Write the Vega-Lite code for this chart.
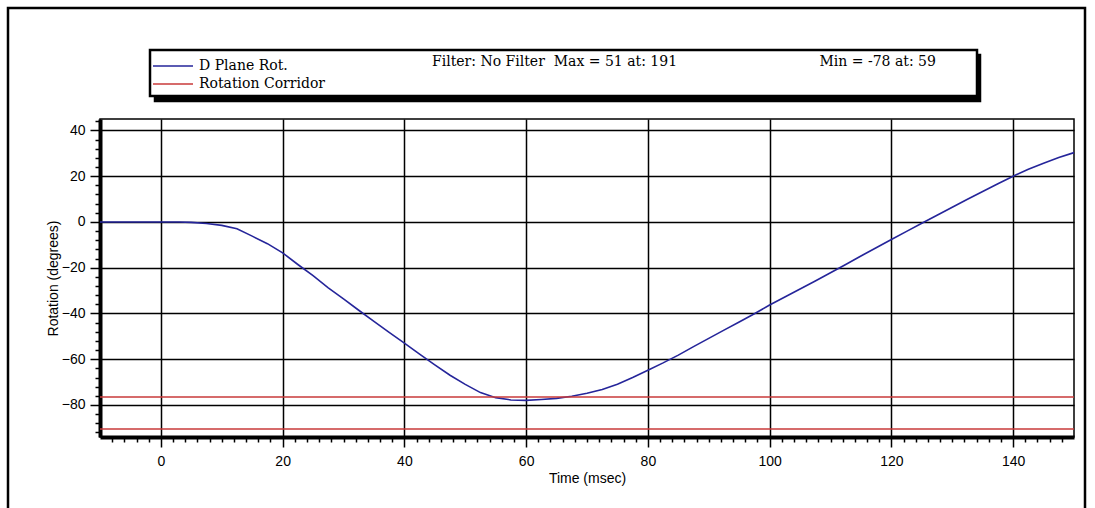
{
  "$schema": "https://vega.github.io/schema/vega-lite/v6.json",
  "width": 974,
  "height": 318,
  "autosize": {"type": "none"},
  "padding": {"left": 100, "top": 119, "right": 21, "bottom": 71},
  "background": "white",
  "title": {"text": "D Plane Rotation", "frame": "group", "anchor": "middle", "dx": -24, "offset": 10, "font": "Liberation Sans", "fontSize": 15, "fontWeight": "normal", "color": "black"},
  "datasets": {
    "curve": [
      {"time": -10, "rotation": 0, "series": "D Plane Rot."},
      {"time": 0, "rotation": 0, "series": "D Plane Rot."},
      {"time": 3, "rotation": 0, "series": "D Plane Rot."},
      {"time": 5, "rotation": -0.2, "series": "D Plane Rot."},
      {"time": 7.5, "rotation": -0.7, "series": "D Plane Rot."},
      {"time": 10, "rotation": -1.5, "series": "D Plane Rot."},
      {"time": 12.5, "rotation": -3, "series": "D Plane Rot."},
      {"time": 15, "rotation": -6.2, "series": "D Plane Rot."},
      {"time": 17.5, "rotation": -9.5, "series": "D Plane Rot."},
      {"time": 20, "rotation": -13.5, "series": "D Plane Rot."},
      {"time": 22.5, "rotation": -18.6, "series": "D Plane Rot."},
      {"time": 25, "rotation": -23.5, "series": "D Plane Rot."},
      {"time": 27.5, "rotation": -28.8, "series": "D Plane Rot."},
      {"time": 30, "rotation": -33.6, "series": "D Plane Rot."},
      {"time": 32.5, "rotation": -38.6, "series": "D Plane Rot."},
      {"time": 35, "rotation": -43.5, "series": "D Plane Rot."},
      {"time": 37.5, "rotation": -48.3, "series": "D Plane Rot."},
      {"time": 40, "rotation": -53, "series": "D Plane Rot."},
      {"time": 42.5, "rotation": -57.8, "series": "D Plane Rot."},
      {"time": 45, "rotation": -62.5, "series": "D Plane Rot."},
      {"time": 47.5, "rotation": -67, "series": "D Plane Rot."},
      {"time": 50, "rotation": -71, "series": "D Plane Rot."},
      {"time": 52.5, "rotation": -74.6, "series": "D Plane Rot."},
      {"time": 55, "rotation": -76.8, "series": "D Plane Rot."},
      {"time": 57.5, "rotation": -77.8, "series": "D Plane Rot."},
      {"time": 60, "rotation": -78, "series": "D Plane Rot."},
      {"time": 62.5, "rotation": -77.6, "series": "D Plane Rot."},
      {"time": 65, "rotation": -77.1, "series": "D Plane Rot."},
      {"time": 67.5, "rotation": -76.2, "series": "D Plane Rot."},
      {"time": 70, "rotation": -74.9, "series": "D Plane Rot."},
      {"time": 72.5, "rotation": -73.2, "series": "D Plane Rot."},
      {"time": 75, "rotation": -70.9, "series": "D Plane Rot."},
      {"time": 77.5, "rotation": -68, "series": "D Plane Rot."},
      {"time": 80, "rotation": -64.8, "series": "D Plane Rot."},
      {"time": 82.5, "rotation": -61.6, "series": "D Plane Rot."},
      {"time": 85, "rotation": -58.2, "series": "D Plane Rot."},
      {"time": 87.5, "rotation": -54.5, "series": "D Plane Rot."},
      {"time": 90, "rotation": -50.9, "series": "D Plane Rot."},
      {"time": 92.5, "rotation": -47.3, "series": "D Plane Rot."},
      {"time": 95, "rotation": -43.7, "series": "D Plane Rot."},
      {"time": 97.5, "rotation": -40.1, "series": "D Plane Rot."},
      {"time": 100, "rotation": -36.3, "series": "D Plane Rot."},
      {"time": 102.5, "rotation": -32.8, "series": "D Plane Rot."},
      {"time": 105, "rotation": -29.3, "series": "D Plane Rot."},
      {"time": 107.5, "rotation": -25.8, "series": "D Plane Rot."},
      {"time": 110, "rotation": -22.2, "series": "D Plane Rot."},
      {"time": 112.5, "rotation": -18.6, "series": "D Plane Rot."},
      {"time": 115, "rotation": -14.9, "series": "D Plane Rot."},
      {"time": 117.5, "rotation": -11.3, "series": "D Plane Rot."},
      {"time": 120, "rotation": -7.7, "series": "D Plane Rot."},
      {"time": 122.5, "rotation": -4.1, "series": "D Plane Rot."},
      {"time": 125, "rotation": -0.6, "series": "D Plane Rot."},
      {"time": 127.5, "rotation": 2.9, "series": "D Plane Rot."},
      {"time": 130, "rotation": 6.4, "series": "D Plane Rot."},
      {"time": 132.5, "rotation": 9.9, "series": "D Plane Rot."},
      {"time": 135, "rotation": 13.3, "series": "D Plane Rot."},
      {"time": 137.5, "rotation": 16.7, "series": "D Plane Rot."},
      {"time": 140, "rotation": 20, "series": "D Plane Rot."},
      {"time": 142.5, "rotation": 23, "series": "D Plane Rot."},
      {"time": 145, "rotation": 25.7, "series": "D Plane Rot."},
      {"time": 147.5, "rotation": 28.2, "series": "D Plane Rot."},
      {"time": 150, "rotation": 30.3, "series": "D Plane Rot."}
    ],
    "corridor": [
      {"rotation": -76.5, "series": "Rotation Corridor"},
      {"rotation": -90.5, "series": "Rotation Corridor"}
    ]
  },
  "layer": [
    {
      "data": {"name": "curve"},
      "mark": {"type": "line", "strokeWidth": 1.6},
      "encoding": {
        "x": {"field": "time", "type": "quantitative",
          "scale": {"domain": [-10, 150], "nice": false, "zero": false},
          "axis": {"orient": "bottom", "values": [0, 20, 40, 60, 80, 100, 120, 140], "grid": true, "tickSize": 10, "labelPadding": 7, "title": "Time (msec)", "titlePadding": 3}},
        "y": {"field": "rotation", "type": "quantitative",
          "scale": {"domain": [-94, 45], "nice": false, "zero": false},
          "axis": {"orient": "left", "values": [-80, -60, -40, -20, 0, 20, 40], "grid": true, "tickSize": 10, "labelPadding": 5, "title": "Rotation (degrees)", "titlePadding": 1}},
        "color": {"field": "series", "type": "nominal",
          "scale": {"domain": ["D Plane Rot.", "Rotation Corridor"], "range": ["#25259a", "#c83a3a"]},
          "legend": {"zindex": 2, "title": "Filter: No Filter\u00a0\u00a0Max = 51 at: 191\u00a0\u00a0\u00a0\u00a0\u00a0\u00a0\u00a0\u00a0\u00a0\u00a0\u00a0\u00a0\u00a0\u00a0\u00a0\u00a0\u00a0\u00a0\u00a0\u00a0\u00a0\u00a0\u00a0\u00a0\u00a0\u00a0\u00a0\u00a0\u00a0\u00a0\u00a0\u00a0Min = -78 at: 59\u00a0\u00a0\u00a0\u00a0\u00a0\u00a0\u00a0\u00a0\u200b"}}
      }
    },
    {
      "data": {"name": "corridor"},
      "mark": {"type": "rule", "strokeWidth": 1.5},
      "encoding": {
        "y": {"field": "rotation", "type": "quantitative",
          "scale": {"domain": [-94, 45], "nice": false, "zero": false}, "axis": null},
        "color": {"field": "series", "type": "nominal"},
        "opacity": {"field": "rotation", "type": "quantitative", "scale": {"range": [1, 1]},
          "legend": {"values": [-90.5], "legendX": -92, "legendY": -111, "zindex": 0, "padding": 240, "fillColor": "transparent", "strokeColor": "black",
            "titleOrient": "top", "titlePadding": 0, "titleFontSize": 28, "labelExpr": "''", "labelOffset": 0, "symbolOpacity": 0, "symbolSize": 0, "symbolStrokeWidth": 0, "symbolStrokeColor": "transparent", "symbolFillColor": "transparent",
            "title": "\u200b\u00a0\u00a0\u00a0\u00a0\u00a0\u00a0\u00a0\u00a0\u00a0\u00a0\u00a0\u00a0\u00a0\u00a0\u00a0\u00a0\u00a0\u00a0\u00a0\u00a0\u00a0\u00a0\u00a0\u00a0\u00a0\u00a0\u00a0\u00a0\u00a0\u00a0\u00a0\u00a0\u00a0\u00a0\u00a0\u00a0\u00a0\u00a0\u00a0\u00a0\u00a0\u00a0\u00a0\u00a0\u00a0\u00a0\u00a0\u00a0\u00a0\u00a0\u00a0\u00a0\u00a0\u00a0\u00a0\u00a0\u00a0\u00a0\u00a0\u00a0\u00a0\u00a0\u00a0\u00a0\u00a0\u00a0\u00a0\u200b"}}
      }
    },
    {
      "data": {"name": "curve"},
      "mark": {"type": "point", "opacity": 0},
      "encoding": {
        "x": {"field": "time", "type": "quantitative",
          "scale": {"domain": [-10, 150], "nice": false, "zero": false},
          "axis": {"orient": "bottom", "values": [-8, -6, -4, -2, 2, 4, 6, 8, 10, 12, 14, 16, 18, 22, 24, 26, 28, 30, 32, 34, 36, 38, 42, 44, 46, 48, 50, 52, 54, 56, 58, 62, 64, 66, 68, 70, 72, 74, 76, 78, 82, 84, 86, 88, 90, 92, 94, 96, 98, 102, 104, 106, 108, 110, 112, 114, 116, 118, 122, 124, 126, 128, 130, 132, 134, 136, 138, 142, 144, 146, 148], "grid": false, "domain": false, "labels": false, "tickSize": 5, "title": null}},
        "y": {"field": "rotation", "type": "quantitative",
          "scale": {"domain": [-94, 45], "nice": false, "zero": false},
          "axis": {"orient": "left", "values": [-92, -88, -84, -76, -72, -68, -64, -56, -52, -48, -44, -36, -32, -28, -24, -16, -12, -8, -4, 4, 8, 12, 16, 24, 28, 32, 36, 44], "grid": false, "domain": false, "labels": false, "tickSize": 5, "title": null}},
        "size": {"field": "time", "type": "quantitative", "scale": {"range": [400, 400]},
          "legend": {"values": [0, 100], "legendX": 55, "legendY": -64, "zindex": 1, "fillColor": "black", "strokeColor": "black", "labelColor": "black", "titleColor": "black", "symbolFillColor": "black", "symbolStrokeColor": "black",
            "labelExpr": "datum.value == 0 ? '\u200b' : '\u200b\u00a0\u00a0\u00a0\u00a0\u00a0\u00a0\u00a0\u00a0\u00a0\u00a0\u00a0\u00a0\u00a0\u00a0\u00a0\u00a0\u00a0\u00a0\u00a0\u00a0\u00a0\u00a0\u00a0\u00a0\u00a0\u00a0\u00a0\u00a0\u200b'",
            "title": "\u200b\u00a0\u00a0\u00a0\u00a0\u00a0\u00a0\u00a0\u00a0\u00a0\u00a0\u00a0\u00a0\u00a0\u00a0\u00a0\u00a0\u00a0\u00a0\u00a0\u00a0\u00a0\u00a0\u00a0\u00a0\u00a0\u00a0\u00a0\u00a0\u00a0\u00a0\u00a0\u00a0\u00a0\u00a0\u00a0\u00a0\u00a0\u00a0\u00a0\u00a0\u00a0\u00a0\u00a0\u00a0\u00a0\u00a0\u00a0\u00a0\u00a0\u00a0\u00a0\u00a0\u00a0\u00a0\u00a0\u00a0\u00a0\u00a0\u00a0\u00a0\u00a0\u00a0\u00a0\u00a0\u00a0\u00a0\u00a0\u00a0\u00a0\u00a0\u00a0\u00a0\u00a0\u00a0\u00a0\u00a0\u00a0\u00a0\u00a0\u00a0\u00a0\u00a0\u00a0\u00a0\u00a0\u00a0\u00a0\u00a0\u00a0\u00a0\u00a0\u00a0\u00a0\u00a0\u00a0\u00a0\u00a0\u00a0\u00a0\u00a0\u00a0\u00a0\u00a0\u00a0\u00a0\u00a0\u00a0\u00a0\u00a0\u00a0\u00a0\u00a0\u00a0\u00a0\u00a0\u00a0\u00a0\u00a0\u00a0\u00a0\u00a0\u200b"}}
      }
    }
  ],
  "resolve": {"axis": {"x": "independent", "y": "independent"}},
  "config": {
    "view": {"stroke": "black", "strokeWidth": 1.5},
    "axis": {"domainColor": "black", "domainWidth": 4, "tickColor": "black", "tickWidth": 1.5, "gridColor": "black", "gridWidth": 1.5, "gridOpacity": 1, "labelColor": "black", "labelFont": "Liberation Sans", "labelFontSize": 14, "titleFont": "Liberation Sans", "titleFontSize": 14, "titleFontWeight": "normal", "titleColor": "black"},
    "legend": {
      "orient": "none", "legendX": 50, "legendY": -69, "direction": "vertical",
      "padding": 5, "strokeColor": "black", "fillColor": "white", "strokeWidth": 2.5,
      "symbolType": "M-1.3,0H2.7", "symbolSize": 400, "symbolStrokeWidth": 1.5, "rowPadding": 0,
      "labelFont": "DejaVu Serif", "labelFontSize": 14, "labelColor": "black", "labelOffset": 22, "labelLimit": 300,
      "titleOrient": "right", "titleAnchor": "start", "titlePadding": 107, "titleFont": "DejaVu Serif", "titleFontSize": 14, "titleFontWeight": "normal", "titleColor": "black", "titleBaseline": "top", "titleLimit": 1200
    }
  }
}
